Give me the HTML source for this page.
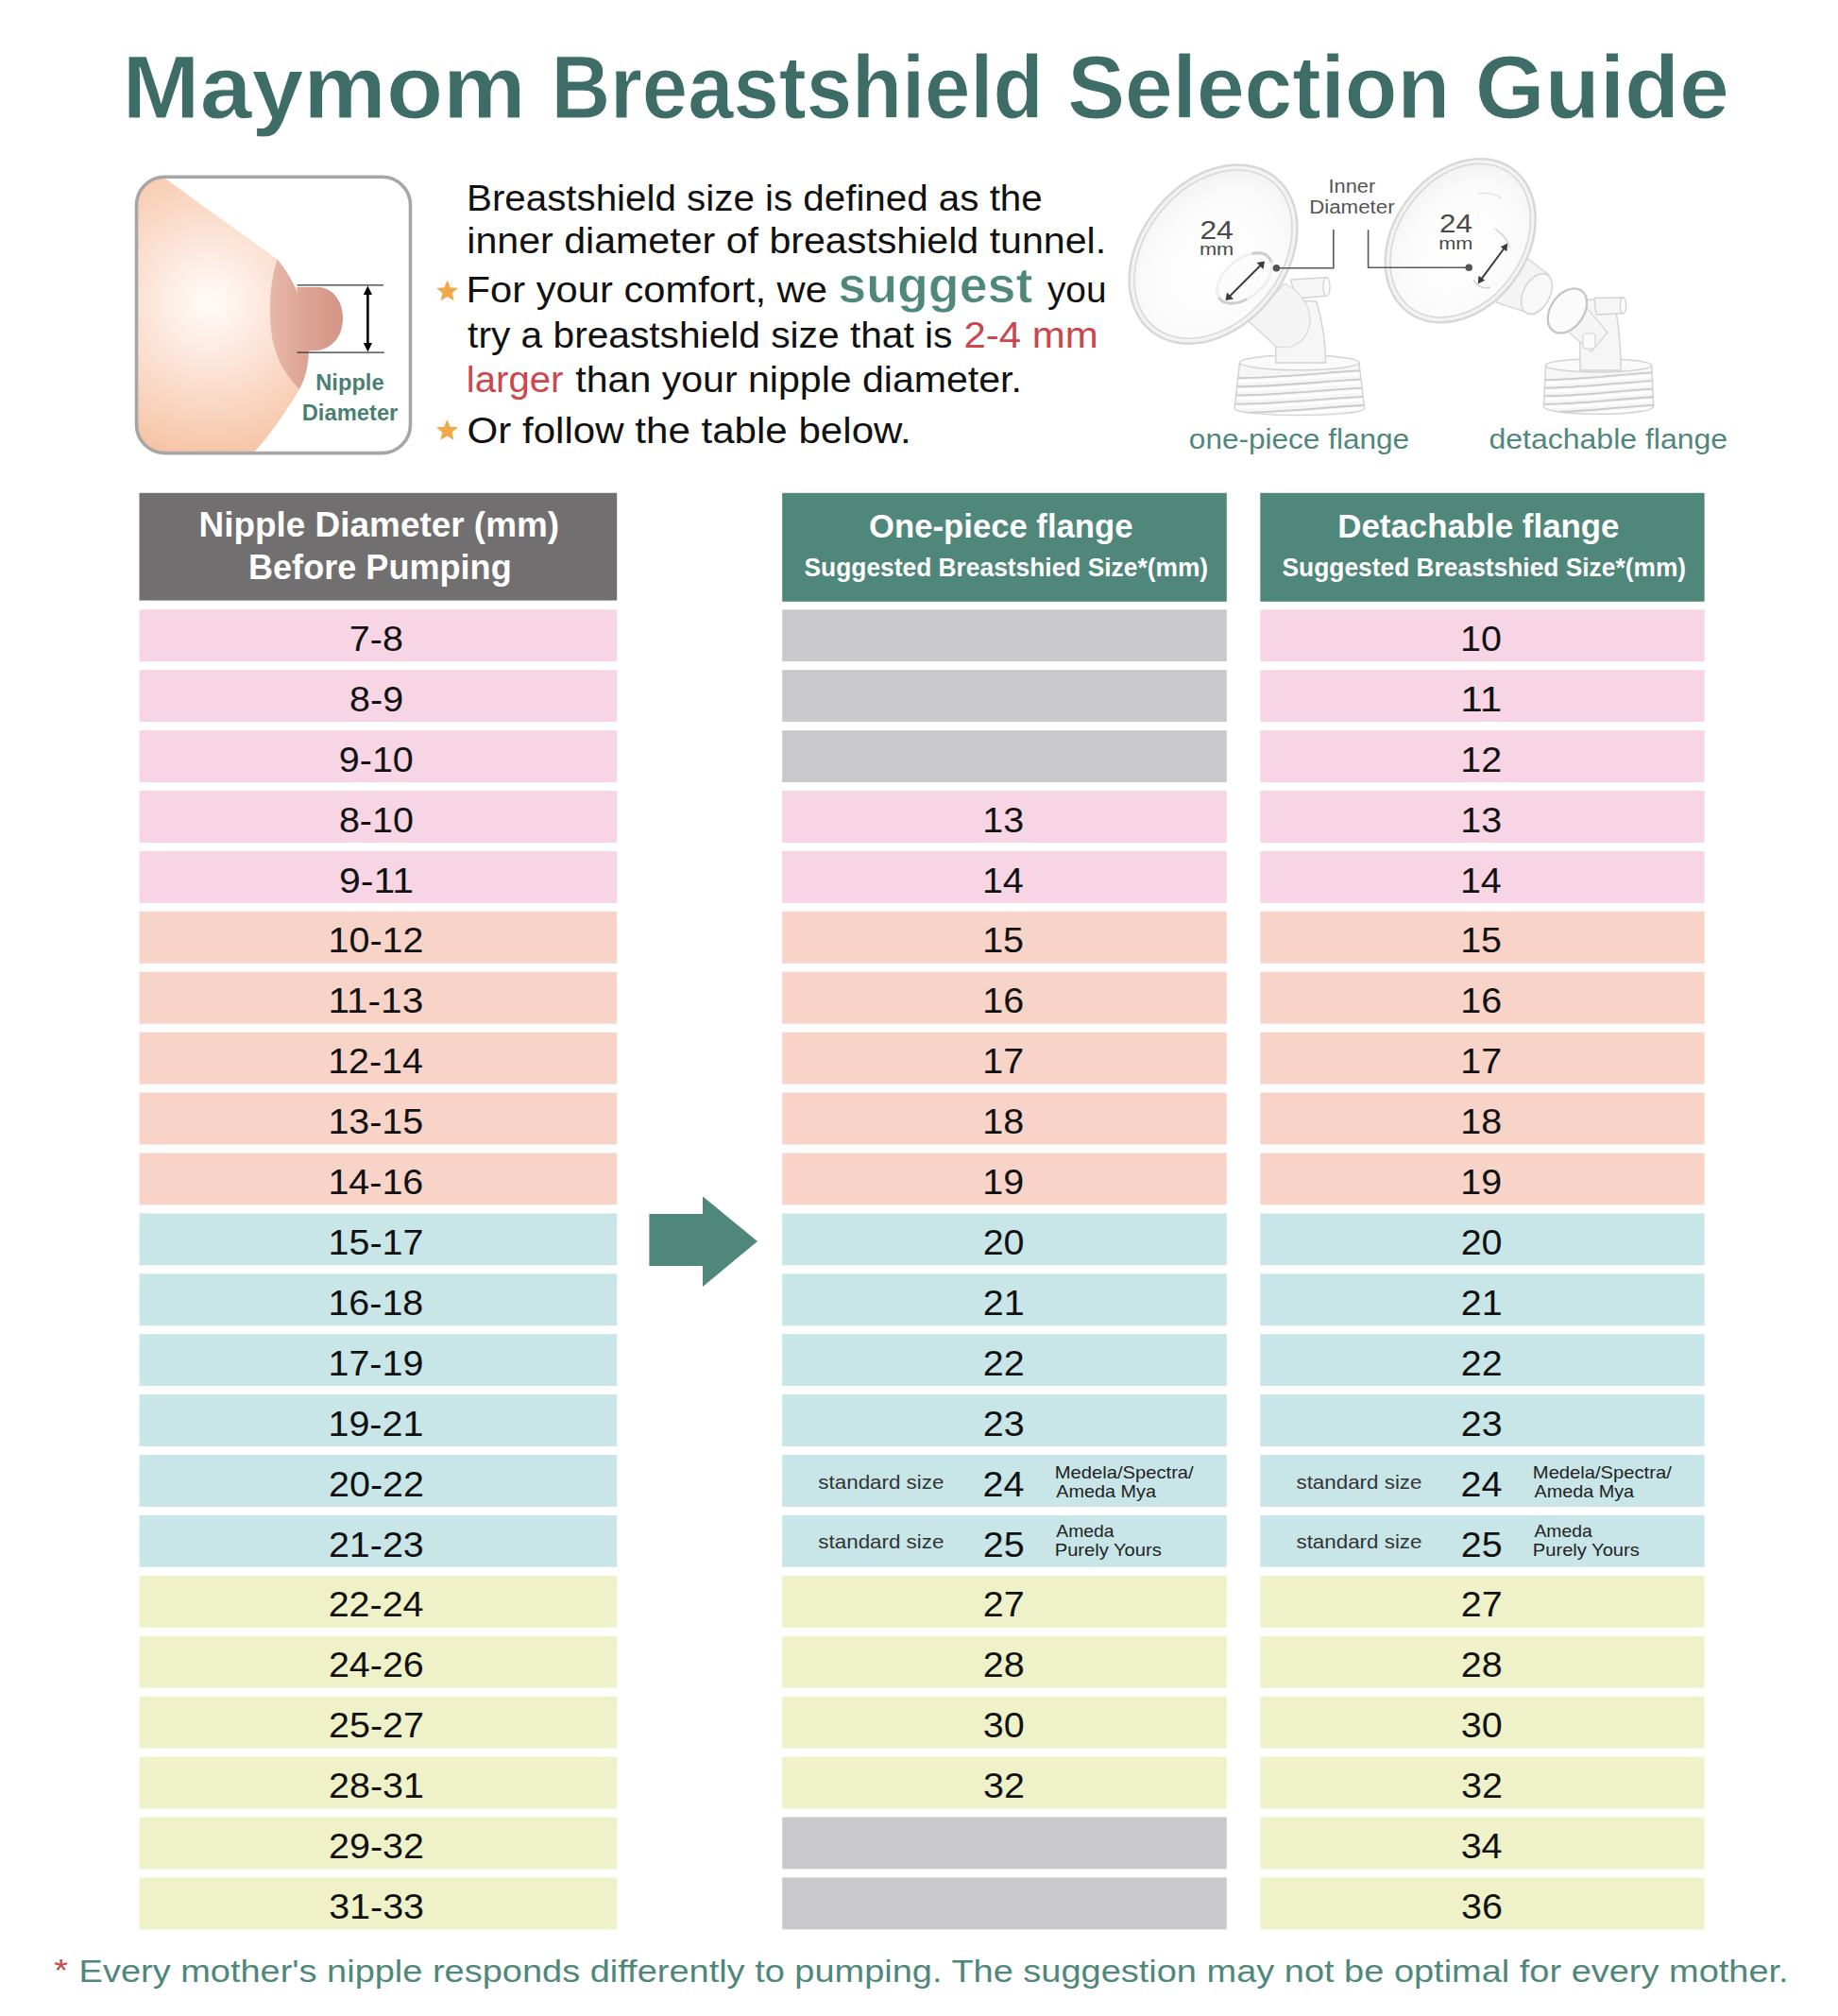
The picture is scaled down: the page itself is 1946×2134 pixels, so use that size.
<!DOCTYPE html>
<html><head><meta charset="utf-8"><style>
html,body{margin:0;padding:0;background:#fff;}
body{width:1946px;height:2134px;overflow:hidden;}
svg{display:block;font-family:"Liberation Sans",sans-serif;}
</style></head><body>
<svg width="1946" height="2134" viewBox="0 0 1946 2134">
<rect width="1946" height="2134" fill="#fff"/>
<text x="129.61" y="124.50" font-size="94.8" font-weight="bold" fill="#3e6d67" textLength="427.10" lengthAdjust="spacingAndGlyphs" stroke="#fff" stroke-width="0.9">Maymom</text>
<text x="583.39" y="124.50" font-size="94.8" font-weight="bold" fill="#3e6d67" textLength="521.13" lengthAdjust="spacingAndGlyphs" stroke="#fff" stroke-width="0.9">Breastshield</text>
<text x="1130.18" y="124.50" font-size="94.8" font-weight="bold" fill="#3e6d67" textLength="404.97" lengthAdjust="spacingAndGlyphs" stroke="#fff" stroke-width="0.9">Selection</text>
<text x="1561.80" y="124.50" font-size="94.8" font-weight="bold" fill="#3e6d67" textLength="269.14" lengthAdjust="spacingAndGlyphs" stroke="#fff" stroke-width="0.9">Guide</text>
<defs>
<radialGradient id="skin" cx="222" cy="320" r="175" gradientUnits="userSpaceOnUse">
<stop offset="0" stop-color="#fffcfa"/><stop offset="0.3" stop-color="#fdeae0"/><stop offset="0.75" stop-color="#f8d0b8"/><stop offset="1" stop-color="#f6c09f"/></radialGradient>
<linearGradient id="areola" x1="285" y1="0" x2="327" y2="0" gradientUnits="userSpaceOnUse">
<stop offset="0" stop-color="#e8b8a8"/><stop offset="1" stop-color="#dca293"/></linearGradient>
<linearGradient id="nip" x1="314" y1="0" x2="363" y2="0" gradientUnits="userSpaceOnUse">
<stop offset="0" stop-color="#dfa898"/><stop offset="1" stop-color="#d49486"/></linearGradient>
<clipPath id="boxclip"><rect x="144.5" y="187.3" width="290" height="292.3" rx="29"/></clipPath>
<radialGradient id="flfill" cx="0.45" cy="0.55" r="0.6">
<stop offset="0" stop-color="#ffffff"/><stop offset="0.7" stop-color="#fbfbfb"/><stop offset="1" stop-color="#f2f2f2"/></radialGradient>
</defs>
<g clip-path="url(#boxclip)">
<path d="M140,185 L175,189 L293.6,274.5 C313,298 326,330 327,365 C327,390 322,402 317,412 C300,440 285,462 265.8,482 L140,482 Z" fill="url(#skin)"/>
<path d="M293.6,274.5 C313,298 326,330 327,365 C327,390 322,402 317,412 C300,395 290,375 287,350 C284,320 287,295 293.6,274.5 Z" fill="url(#areola)"/>
<path d="M314,304 L339,304 C355,306 363,322 363,337 C363,355 352,370 335,371 L314,372 C318,350 318,325 314,304 Z" fill="url(#nip)"/>
</g>
<rect x="144.5" y="187.3" width="290" height="292.3" rx="30" fill="none" stroke="#a6a6a6" stroke-width="3.6"/>
<line x1="314.5" y1="301.8" x2="406" y2="301.8" stroke="#333" stroke-width="1.2"/>
<line x1="314.5" y1="373.2" x2="406.8" y2="373.2" stroke="#333" stroke-width="1.2"/>
<line x1="389.4" y1="309" x2="389.4" y2="366" stroke="#000" stroke-width="2.6"/>
<path d="M389.4,302.5 L384.8,312 L394,312 Z M389.4,372.5 L384.8,363 L394,363 Z" fill="#000"/>
<text x="334.22" y="412.90" font-size="23" font-weight="bold" fill="#4a7f74" textLength="72.39" lengthAdjust="spacingAndGlyphs">Nipple</text>
<text x="319.71" y="445.00" font-size="23" font-weight="bold" fill="#4a7f74" textLength="101.65" lengthAdjust="spacingAndGlyphs">Diameter</text>
<polygon points="473.60,296.60 476.77,304.23 485.01,304.89 478.74,310.27 480.65,318.31 473.60,314.00 466.55,318.31 468.46,310.27 462.19,304.89 470.43,304.23" fill="#f0a848"/>
<polygon points="473.40,444.00 476.57,451.63 484.81,452.29 478.54,457.67 480.45,465.71 473.40,461.40 466.35,465.71 468.26,457.67 461.99,452.29 470.23,451.63" fill="#f0a848"/>
<text x="493.99" y="222.90" font-size="38" font-weight="normal" fill="#111" textLength="609.70" lengthAdjust="spacingAndGlyphs">Breastshield size is defined as the</text>
<text x="494.25" y="268.10" font-size="38" font-weight="normal" fill="#111" textLength="676.91" lengthAdjust="spacingAndGlyphs">inner diameter of breastshield tunnel.</text>
<text x="493.58" y="319.70" font-size="38" font-weight="normal" fill="#111" textLength="382.27" lengthAdjust="spacingAndGlyphs">For your comfort, we</text>
<text x="887.31" y="319.70" font-size="51" font-weight="bold" fill="#4f877b" textLength="206.05" lengthAdjust="spacingAndGlyphs" stroke="#fff" stroke-width="0.7">suggest</text>
<text x="1108.91" y="319.70" font-size="38" font-weight="normal" fill="#111" textLength="62.57" lengthAdjust="spacingAndGlyphs">you</text>
<text x="495.08" y="368.20" font-size="38" font-weight="normal" fill="#111" textLength="513.39" lengthAdjust="spacingAndGlyphs">try a breastshield size that is</text>
<text x="1020.49" y="368.20" font-size="38" font-weight="normal" fill="#c9474d" textLength="142.07" lengthAdjust="spacingAndGlyphs">2-4 mm</text>
<text x="493.80" y="415.30" font-size="38" font-weight="normal" fill="#c9474d" textLength="102.57" lengthAdjust="spacingAndGlyphs">larger</text>
<text x="609.38" y="415.30" font-size="38" font-weight="normal" fill="#111" textLength="472.55" lengthAdjust="spacingAndGlyphs">than your nipple diameter.</text>
<text x="494.52" y="469.10" font-size="38" font-weight="normal" fill="#111" textLength="470.31" lengthAdjust="spacingAndGlyphs">Or follow the table below.</text>
<g id="flanges" stroke-linejoin="round">
<clipPath id="bc1"><path d="M1312.5,384 L1307.1,432 C1307,442 1444.7,442 1444.7,432 L1438.9,384 Z"/></clipPath>
<path d="M1312.5,384 L1307.1,432 C1307,442 1444.7,442 1444.7,432 L1438.9,384 Z" fill="#f6f6f6"/>
<g clip-path="url(#bc1)">
<path d="M1300,400.0 C1350,401.0 1400,394.0 1450,392.0" fill="none" stroke="#c9c9c9" stroke-width="1.8"/>
<path d="M1300,403.5 C1350,404.5 1400,397.5 1450,395.5" fill="none" stroke="#ffffff" stroke-width="2.4"/>
<path d="M1300,409.2 C1350,410.2 1400,403.2 1450,401.2" fill="none" stroke="#c9c9c9" stroke-width="1.8"/>
<path d="M1300,412.7 C1350,413.7 1400,406.7 1450,404.7" fill="none" stroke="#ffffff" stroke-width="2.4"/>
<path d="M1300,418.4 C1350,419.4 1400,412.4 1450,410.4" fill="none" stroke="#c9c9c9" stroke-width="1.8"/>
<path d="M1300,421.9 C1350,422.9 1400,415.9 1450,413.9" fill="none" stroke="#ffffff" stroke-width="2.4"/>
<path d="M1300,427.6 C1350,428.6 1400,421.6 1450,419.6" fill="none" stroke="#c9c9c9" stroke-width="1.8"/>
<path d="M1300,431.1 C1350,432.1 1400,425.1 1450,423.1" fill="none" stroke="#ffffff" stroke-width="2.4"/>
<path d="M1300,436.8 C1350,437.8 1400,430.8 1450,428.8" fill="none" stroke="#c9c9c9" stroke-width="1.8"/>
<path d="M1300,440.3 C1350,441.3 1400,434.3 1450,432.3" fill="none" stroke="#ffffff" stroke-width="2.4"/>
</g>
<path d="M1312.5,384 L1307.1,432 C1307,442 1444.7,442 1444.7,432 L1438.9,384 Z" fill="none" stroke="#d3d3d3" stroke-width="1.5"/>
<ellipse cx="1375.7" cy="383.8" rx="63.2" ry="8" fill="#fafafa" stroke="#d3d3d3" stroke-width="1.5"/>
<path d="M1350.7,317 L1393.8,319 C1400,340 1403.6,365 1403.6,384 L1350.7,384 Z" fill="#f6f6f6" stroke="#d3d3d3" stroke-width="1.4"/>
<path d="M1366.4,296 L1404,293.7 L1404,313.3 L1372,316 Z" fill="#f6f6f6" stroke="#d3d3d3" stroke-width="1.4"/>
<ellipse cx="1404.5" cy="303.5" rx="3.5" ry="10" fill="#fbfbfb" stroke="#d3d3d3" stroke-width="1.3"/>
<path d="M1322,340 L1360,300 C1380,310 1392,330 1385,350 C1378,368 1360,370 1350,366 Z" fill="#f4f4f4" stroke="#d9d9d9" stroke-width="1.3"/>
<ellipse cx="1284.5" cy="269.1" rx="104.6" ry="76.9" transform="rotate(-51 1284.5 269.1)" fill="#f3f3f3" stroke="#d7d7d7" stroke-width="2.4"/>
<ellipse cx="1284.5" cy="269.1" rx="99" ry="71.5" transform="rotate(-51 1284.5 269.1)" fill="url(#flfill)" stroke="#d9d9d9" stroke-width="1.6"/>
<ellipse cx="1317.5" cy="294.5" rx="34" ry="20" transform="rotate(-40 1317.5 294.5)" fill="#fcfcfc" stroke="#f0f0f0" stroke-width="3"/>
<ellipse cx="1317.5" cy="294.5" rx="34" ry="20" transform="rotate(-40 1317.5 294.5)" fill="none" stroke="#cdcdcd" stroke-width="3" stroke-dasharray="6 49 33 64.5 20"/>
<line x1="1299.5" y1="316" x2="1337" y2="278.5" stroke="#3c3c3c" stroke-width="2"/>
<path d="M1297.5,318 L1299,309.5 L1306,316.5 Z M1339,276.5 L1337.5,285 L1330.5,278 Z" fill="#3c3c3c"/>
<clipPath id="bc2"><path d="M1636.6,387 L1634.4,430 C1634.4,441 1750.8,441 1750.8,430 L1748.7,387 Z"/></clipPath>
<path d="M1636.6,387 L1634.4,430 C1634.4,441 1750.8,441 1750.8,430 L1748.7,387 Z" fill="#f6f6f6"/>
<g clip-path="url(#bc2)">
<path d="M1625,402.0 C1670,403.0 1710,396.0 1760,394.0" fill="none" stroke="#c9c9c9" stroke-width="1.8"/>
<path d="M1625,405.5 C1670,406.5 1710,399.5 1760,397.5" fill="none" stroke="#ffffff" stroke-width="2.4"/>
<path d="M1625,410.6 C1670,411.6 1710,404.6 1760,402.6" fill="none" stroke="#c9c9c9" stroke-width="1.8"/>
<path d="M1625,414.1 C1670,415.1 1710,408.1 1760,406.1" fill="none" stroke="#ffffff" stroke-width="2.4"/>
<path d="M1625,419.2 C1670,420.2 1710,413.2 1760,411.2" fill="none" stroke="#c9c9c9" stroke-width="1.8"/>
<path d="M1625,422.7 C1670,423.7 1710,416.7 1760,414.7" fill="none" stroke="#ffffff" stroke-width="2.4"/>
<path d="M1625,427.8 C1670,428.8 1710,421.8 1760,419.8" fill="none" stroke="#c9c9c9" stroke-width="1.8"/>
<path d="M1625,431.3 C1670,432.3 1710,425.3 1760,423.3" fill="none" stroke="#ffffff" stroke-width="2.4"/>
<path d="M1625,436.4 C1670,437.4 1710,430.4 1760,428.4" fill="none" stroke="#c9c9c9" stroke-width="1.8"/>
<path d="M1625,439.9 C1670,440.9 1710,433.9 1760,431.9" fill="none" stroke="#ffffff" stroke-width="2.4"/>
</g>
<path d="M1636.6,387 L1634.4,430 C1634.4,441 1750.8,441 1750.8,430 L1748.7,387 Z" fill="none" stroke="#d3d3d3" stroke-width="1.5"/>
<ellipse cx="1692.6" cy="386.8" rx="56" ry="7" fill="#fafafa" stroke="#d3d3d3" stroke-width="1.5"/>
<path d="M1672.5,318 L1708,316 C1714,340 1716,365 1716,392 L1673,392 Z" fill="#f6f6f6" stroke="#d3d3d3" stroke-width="1.4"/>
<path d="M1688,315.5 L1718,315 L1718,331.8 L1690,333 Z" fill="#f6f6f6" stroke="#d3d3d3" stroke-width="1.4"/>
<ellipse cx="1718.5" cy="323.5" rx="3.2" ry="8.5" fill="#fbfbfb" stroke="#d3d3d3" stroke-width="1.3"/>
<path d="M1647,340 L1668,312 L1702,352 L1685,372 Z" fill="#f5f5f5" stroke="#d9d9d9" stroke-width="1.3"/>
<ellipse cx="1659.4" cy="329" rx="26" ry="17.5" transform="rotate(-55 1659.4 329)" fill="#fbfbfb" stroke="#c4c4c4" stroke-width="2.2"/>
<rect x="1676" y="353" width="13" height="16" rx="3" fill="#fafafa" stroke="#d5d5d5" stroke-width="1.2"/>
<path d="M1600,262 L1618,274 L1640,291 C1645,305 1640,326 1624,333 L1584,320 Z" fill="#f4f4f4" stroke="#d8d8d8" stroke-width="1.4"/>
<ellipse cx="1627" cy="311" rx="23" ry="14" transform="rotate(-62 1627 311)" fill="#f8f8f8" stroke="#d6d6d6" stroke-width="1.6"/>
<ellipse cx="1546.2" cy="254.7" rx="93.9" ry="70.7" transform="rotate(-54 1546.2 254.7)" fill="#f3f3f3" stroke="#d7d7d7" stroke-width="2.4"/>
<ellipse cx="1546.2" cy="254.7" rx="88.5" ry="65.5" transform="rotate(-54 1546.2 254.7)" fill="url(#flfill)" stroke="#d9d9d9" stroke-width="1.6"/>
<path d="M1583,242 C1590,248 1596,252 1598,262" fill="none" stroke="#d0d0d0" stroke-width="1.4"/>
<path d="M1560,296 C1564,304 1572,306 1578,304" fill="none" stroke="#d0d0d0" stroke-width="1.4"/>
<path d="M1565,205 C1575,203 1585,206 1590,210" fill="none" stroke="#e0e0e0" stroke-width="1.2"/>
<line x1="1566" y1="298.6" x2="1595" y2="259.5" stroke="#3c3c3c" stroke-width="2"/>
<path d="M1564.7,300.4 L1565.5,291.8 L1572.2,296.8 Z M1596.2,257.6 L1595.4,266.2 L1588.7,261.2 Z" fill="#3c3c3c"/>
<path d="M1351.4,283.8 L1411.8,283.8 L1411.8,243" fill="none" stroke="#595959" stroke-width="1.6"/>
<path d="M1448.6,243.3 L1448.6,283.3 L1555.2,283.3" fill="none" stroke="#595959" stroke-width="1.6"/>
<circle cx="1351.4" cy="283.8" r="3.8" fill="#555"/>
<circle cx="1555.2" cy="283.3" r="3.8" fill="#555"/>
<text x="1270.40" y="252.80" font-size="28" font-weight="normal" fill="#4a4a4a" textLength="35.44" lengthAdjust="spacingAndGlyphs">24</text>
<text x="1269.95" y="270.40" font-size="18" font-weight="normal" fill="#4a4a4a" textLength="36.39" lengthAdjust="spacingAndGlyphs">mm</text>
<text x="1524.13" y="246.20" font-size="28" font-weight="normal" fill="#4a4a4a" textLength="34.79" lengthAdjust="spacingAndGlyphs">24</text>
<text x="1523.26" y="264.30" font-size="18" font-weight="normal" fill="#4a4a4a" textLength="36.17" lengthAdjust="spacingAndGlyphs">mm</text>
<text x="1406.49" y="203.90" font-size="19.5" font-weight="normal" fill="#555" textLength="49.67" lengthAdjust="spacingAndGlyphs">Inner</text>
<text x="1386.17" y="225.90" font-size="19.5" font-weight="normal" fill="#555" textLength="90.40" lengthAdjust="spacingAndGlyphs">Diameter</text>
</g>
<text x="1258.88" y="474.70" font-size="30" font-weight="normal" fill="#4f877b" textLength="233.23" lengthAdjust="spacingAndGlyphs">one-piece flange</text>
<text x="1576.56" y="474.70" font-size="30" font-weight="normal" fill="#4f877b" textLength="252.56" lengthAdjust="spacingAndGlyphs">detachable flange</text>
<rect x="147.5" y="521.8" width="505.70000000000005" height="113.8" fill="#716f70"/>
<rect x="828.2" y="521.8" width="470.5999999999999" height="115" fill="#4f877b"/>
<rect x="1334.3" y="521.8" width="470.29999999999995" height="115" fill="#4f877b"/>
<text x="210.53" y="568.30" font-size="37.4" font-weight="bold" fill="#fff" textLength="381.61" lengthAdjust="spacingAndGlyphs">Nipple Diameter (mm)</text>
<text x="262.99" y="613.40" font-size="37.4" font-weight="bold" fill="#fff" textLength="278.73" lengthAdjust="spacingAndGlyphs">Before Pumping</text>
<text x="920.08" y="569.40" font-size="35.5" font-weight="bold" fill="#fff" textLength="279.41" lengthAdjust="spacingAndGlyphs">One-piece flange</text>
<text x="851.54" y="610.40" font-size="27.2" font-weight="bold" fill="#fff" textLength="427.57" lengthAdjust="spacingAndGlyphs">Suggested Breastshied Size*(mm)</text>
<text x="1416.27" y="569.40" font-size="35.5" font-weight="bold" fill="#fff" textLength="298.22" lengthAdjust="spacingAndGlyphs">Detachable flange</text>
<text x="1357.54" y="610.40" font-size="27.2" font-weight="bold" fill="#fff" textLength="427.57" lengthAdjust="spacingAndGlyphs">Suggested Breastshied Size*(mm)</text>
<rect x="147.5" y="645.30" width="505.7" height="54.9" fill="#f7d5e4"/>
<rect x="828.2" y="645.30" width="470.6" height="54.9" fill="#c9c9cb"/>
<rect x="1334.3" y="645.30" width="470.3" height="54.9" fill="#f7d5e4"/>
<text x="369.85" y="688.90" font-size="37.2" font-weight="normal" fill="#111" textLength="56.99" lengthAdjust="spacingAndGlyphs">7-8</text>
<text x="1546.14" y="688.90" font-size="37.2" font-weight="normal" fill="#111" textLength="43.86" lengthAdjust="spacingAndGlyphs">10</text>
<rect x="147.5" y="709.21" width="505.7" height="54.9" fill="#f7d5e4"/>
<rect x="828.2" y="709.21" width="470.6" height="54.9" fill="#c9c9cb"/>
<rect x="1334.3" y="709.21" width="470.3" height="54.9" fill="#f7d5e4"/>
<text x="370.08" y="752.81" font-size="37.2" font-weight="normal" fill="#111" textLength="56.99" lengthAdjust="spacingAndGlyphs">8-9</text>
<text x="1546.33" y="752.81" font-size="37.2" font-weight="normal" fill="#111" textLength="43.86" lengthAdjust="spacingAndGlyphs">11</text>
<rect x="147.5" y="773.12" width="505.7" height="54.9" fill="#f7d5e4"/>
<rect x="828.2" y="773.12" width="470.6" height="54.9" fill="#c9c9cb"/>
<rect x="1334.3" y="773.12" width="470.3" height="54.9" fill="#f7d5e4"/>
<text x="358.89" y="816.72" font-size="37.2" font-weight="normal" fill="#111" textLength="78.92" lengthAdjust="spacingAndGlyphs">9-10</text>
<text x="1546.36" y="816.72" font-size="37.2" font-weight="normal" fill="#111" textLength="43.86" lengthAdjust="spacingAndGlyphs">12</text>
<rect x="147.5" y="837.03" width="505.7" height="54.9" fill="#f7d5e4"/>
<rect x="828.2" y="837.03" width="470.6" height="54.9" fill="#f7d5e4"/>
<rect x="1334.3" y="837.03" width="470.3" height="54.9" fill="#f7d5e4"/>
<text x="358.95" y="880.63" font-size="37.2" font-weight="normal" fill="#111" textLength="78.92" lengthAdjust="spacingAndGlyphs">8-10</text>
<text x="1040.23" y="880.63" font-size="37.2" font-weight="normal" fill="#111" textLength="43.86" lengthAdjust="spacingAndGlyphs">13</text>
<text x="1546.23" y="880.63" font-size="37.2" font-weight="normal" fill="#111" textLength="43.86" lengthAdjust="spacingAndGlyphs">13</text>
<rect x="147.5" y="900.94" width="505.7" height="54.9" fill="#f7d5e4"/>
<rect x="828.2" y="900.94" width="470.6" height="54.9" fill="#f7d5e4"/>
<rect x="1334.3" y="900.94" width="470.3" height="54.9" fill="#f7d5e4"/>
<text x="359.08" y="944.54" font-size="37.2" font-weight="normal" fill="#111" textLength="78.92" lengthAdjust="spacingAndGlyphs">9-11</text>
<text x="1039.95" y="944.54" font-size="37.2" font-weight="normal" fill="#111" textLength="43.86" lengthAdjust="spacingAndGlyphs">14</text>
<text x="1545.95" y="944.54" font-size="37.2" font-weight="normal" fill="#111" textLength="43.86" lengthAdjust="spacingAndGlyphs">14</text>
<rect x="147.5" y="964.85" width="505.7" height="54.9" fill="#f7d3c8"/>
<rect x="828.2" y="964.85" width="470.6" height="54.9" fill="#f7d3c8"/>
<rect x="1334.3" y="964.85" width="470.3" height="54.9" fill="#f7d3c8"/>
<text x="347.56" y="1008.45" font-size="37.2" font-weight="normal" fill="#111" textLength="100.85" lengthAdjust="spacingAndGlyphs">10-12</text>
<text x="1040.20" y="1008.45" font-size="37.2" font-weight="normal" fill="#111" textLength="43.86" lengthAdjust="spacingAndGlyphs">15</text>
<text x="1546.20" y="1008.45" font-size="37.2" font-weight="normal" fill="#111" textLength="43.86" lengthAdjust="spacingAndGlyphs">15</text>
<rect x="147.5" y="1028.76" width="505.7" height="54.9" fill="#f7d3c8"/>
<rect x="828.2" y="1028.76" width="470.6" height="54.9" fill="#f7d3c8"/>
<rect x="1334.3" y="1028.76" width="470.3" height="54.9" fill="#f7d3c8"/>
<text x="347.44" y="1072.36" font-size="37.2" font-weight="normal" fill="#111" textLength="100.85" lengthAdjust="spacingAndGlyphs">11-13</text>
<text x="1040.23" y="1072.36" font-size="37.2" font-weight="normal" fill="#111" textLength="43.86" lengthAdjust="spacingAndGlyphs">16</text>
<text x="1546.23" y="1072.36" font-size="37.2" font-weight="normal" fill="#111" textLength="43.86" lengthAdjust="spacingAndGlyphs">16</text>
<rect x="147.5" y="1092.67" width="505.7" height="54.9" fill="#f7d3c8"/>
<rect x="828.2" y="1092.67" width="470.6" height="54.9" fill="#f7d3c8"/>
<rect x="1334.3" y="1092.67" width="470.3" height="54.9" fill="#f7d3c8"/>
<text x="347.15" y="1136.27" font-size="37.2" font-weight="normal" fill="#111" textLength="100.85" lengthAdjust="spacingAndGlyphs">12-14</text>
<text x="1040.36" y="1136.27" font-size="37.2" font-weight="normal" fill="#111" textLength="43.86" lengthAdjust="spacingAndGlyphs">17</text>
<text x="1546.36" y="1136.27" font-size="37.2" font-weight="normal" fill="#111" textLength="43.86" lengthAdjust="spacingAndGlyphs">17</text>
<rect x="147.5" y="1156.58" width="505.7" height="54.9" fill="#f7d3c8"/>
<rect x="828.2" y="1156.58" width="470.6" height="54.9" fill="#f7d3c8"/>
<rect x="1334.3" y="1156.58" width="470.3" height="54.9" fill="#f7d3c8"/>
<text x="347.40" y="1200.18" font-size="37.2" font-weight="normal" fill="#111" textLength="100.85" lengthAdjust="spacingAndGlyphs">13-15</text>
<text x="1040.22" y="1200.18" font-size="37.2" font-weight="normal" fill="#111" textLength="43.86" lengthAdjust="spacingAndGlyphs">18</text>
<text x="1546.22" y="1200.18" font-size="37.2" font-weight="normal" fill="#111" textLength="43.86" lengthAdjust="spacingAndGlyphs">18</text>
<rect x="147.5" y="1220.49" width="505.7" height="54.9" fill="#f7d3c8"/>
<rect x="828.2" y="1220.49" width="470.6" height="54.9" fill="#f7d3c8"/>
<rect x="1334.3" y="1220.49" width="470.3" height="54.9" fill="#f7d3c8"/>
<text x="347.44" y="1264.09" font-size="37.2" font-weight="normal" fill="#111" textLength="100.85" lengthAdjust="spacingAndGlyphs">14-16</text>
<text x="1040.30" y="1264.09" font-size="37.2" font-weight="normal" fill="#111" textLength="43.86" lengthAdjust="spacingAndGlyphs">19</text>
<text x="1546.30" y="1264.09" font-size="37.2" font-weight="normal" fill="#111" textLength="43.86" lengthAdjust="spacingAndGlyphs">19</text>
<rect x="147.5" y="1284.40" width="505.7" height="54.9" fill="#c8e6e8"/>
<rect x="828.2" y="1284.40" width="470.6" height="54.9" fill="#c8e6e8"/>
<rect x="1334.3" y="1284.40" width="470.3" height="54.9" fill="#c8e6e8"/>
<text x="347.56" y="1328.00" font-size="37.2" font-weight="normal" fill="#111" textLength="100.85" lengthAdjust="spacingAndGlyphs">15-17</text>
<text x="1040.65" y="1328.00" font-size="37.2" font-weight="normal" fill="#111" textLength="43.86" lengthAdjust="spacingAndGlyphs">20</text>
<text x="1546.65" y="1328.00" font-size="37.2" font-weight="normal" fill="#111" textLength="43.86" lengthAdjust="spacingAndGlyphs">20</text>
<rect x="147.5" y="1348.31" width="505.7" height="54.9" fill="#c8e6e8"/>
<rect x="828.2" y="1348.31" width="470.6" height="54.9" fill="#c8e6e8"/>
<rect x="1334.3" y="1348.31" width="470.3" height="54.9" fill="#c8e6e8"/>
<text x="347.43" y="1391.91" font-size="37.2" font-weight="normal" fill="#111" textLength="100.85" lengthAdjust="spacingAndGlyphs">16-18</text>
<text x="1040.84" y="1391.91" font-size="37.2" font-weight="normal" fill="#111" textLength="43.86" lengthAdjust="spacingAndGlyphs">21</text>
<text x="1546.84" y="1391.91" font-size="37.2" font-weight="normal" fill="#111" textLength="43.86" lengthAdjust="spacingAndGlyphs">21</text>
<rect x="147.5" y="1412.22" width="505.7" height="54.9" fill="#c8e6e8"/>
<rect x="828.2" y="1412.22" width="470.6" height="54.9" fill="#c8e6e8"/>
<rect x="1334.3" y="1412.22" width="470.3" height="54.9" fill="#c8e6e8"/>
<text x="347.51" y="1455.82" font-size="37.2" font-weight="normal" fill="#111" textLength="100.85" lengthAdjust="spacingAndGlyphs">17-19</text>
<text x="1040.87" y="1455.82" font-size="37.2" font-weight="normal" fill="#111" textLength="43.86" lengthAdjust="spacingAndGlyphs">22</text>
<text x="1546.87" y="1455.82" font-size="37.2" font-weight="normal" fill="#111" textLength="43.86" lengthAdjust="spacingAndGlyphs">22</text>
<rect x="147.5" y="1476.13" width="505.7" height="54.9" fill="#c8e6e8"/>
<rect x="828.2" y="1476.13" width="470.6" height="54.9" fill="#c8e6e8"/>
<rect x="1334.3" y="1476.13" width="470.3" height="54.9" fill="#c8e6e8"/>
<text x="347.53" y="1519.73" font-size="37.2" font-weight="normal" fill="#111" textLength="100.85" lengthAdjust="spacingAndGlyphs">19-21</text>
<text x="1040.74" y="1519.73" font-size="37.2" font-weight="normal" fill="#111" textLength="43.86" lengthAdjust="spacingAndGlyphs">23</text>
<text x="1546.74" y="1519.73" font-size="37.2" font-weight="normal" fill="#111" textLength="43.86" lengthAdjust="spacingAndGlyphs">23</text>
<rect x="147.5" y="1540.04" width="505.7" height="54.9" fill="#c8e6e8"/>
<rect x="828.2" y="1540.04" width="470.6" height="54.9" fill="#c8e6e8"/>
<rect x="1334.3" y="1540.04" width="470.3" height="54.9" fill="#c8e6e8"/>
<text x="348.07" y="1583.64" font-size="37.2" font-weight="normal" fill="#111" textLength="100.85" lengthAdjust="spacingAndGlyphs">20-22</text>
<text x="1040.46" y="1583.64" font-size="37.2" font-weight="normal" fill="#111" textLength="43.86" lengthAdjust="spacingAndGlyphs">24</text>
<text x="1546.46" y="1583.64" font-size="37.2" font-weight="normal" fill="#111" textLength="43.86" lengthAdjust="spacingAndGlyphs">24</text>
<text x="866.38" y="1575.54" font-size="20.4" font-weight="normal" fill="#333" textLength="133.02" lengthAdjust="spacingAndGlyphs">standard size</text>
<text x="1116.74" y="1564.94" font-size="18.6" font-weight="normal" fill="#222" textLength="146.96" lengthAdjust="spacingAndGlyphs">Medela/Spectra/</text>
<text x="1118.36" y="1584.94" font-size="18.6" font-weight="normal" fill="#222" textLength="105.64" lengthAdjust="spacingAndGlyphs">Ameda Mya</text>
<text x="1372.48" y="1575.54" font-size="20.4" font-weight="normal" fill="#333" textLength="133.02" lengthAdjust="spacingAndGlyphs">standard size</text>
<text x="1622.84" y="1564.94" font-size="18.6" font-weight="normal" fill="#222" textLength="146.96" lengthAdjust="spacingAndGlyphs">Medela/Spectra/</text>
<text x="1624.46" y="1584.94" font-size="18.6" font-weight="normal" fill="#222" textLength="105.64" lengthAdjust="spacingAndGlyphs">Ameda Mya</text>
<rect x="147.5" y="1603.95" width="505.7" height="54.9" fill="#c8e6e8"/>
<rect x="828.2" y="1603.95" width="470.6" height="54.9" fill="#c8e6e8"/>
<rect x="1334.3" y="1603.95" width="470.3" height="54.9" fill="#c8e6e8"/>
<text x="347.95" y="1647.55" font-size="37.2" font-weight="normal" fill="#111" textLength="100.85" lengthAdjust="spacingAndGlyphs">21-23</text>
<text x="1040.71" y="1647.55" font-size="37.2" font-weight="normal" fill="#111" textLength="43.86" lengthAdjust="spacingAndGlyphs">25</text>
<text x="1546.71" y="1647.55" font-size="37.2" font-weight="normal" fill="#111" textLength="43.86" lengthAdjust="spacingAndGlyphs">25</text>
<text x="866.38" y="1639.45" font-size="20.4" font-weight="normal" fill="#333" textLength="133.02" lengthAdjust="spacingAndGlyphs">standard size</text>
<text x="1118.36" y="1626.55" font-size="18.6" font-weight="normal" fill="#222" textLength="61.24" lengthAdjust="spacingAndGlyphs">Ameda</text>
<text x="1116.78" y="1647.05" font-size="18.6" font-weight="normal" fill="#222" textLength="112.93" lengthAdjust="spacingAndGlyphs">Purely Yours</text>
<text x="1372.48" y="1639.45" font-size="20.4" font-weight="normal" fill="#333" textLength="133.02" lengthAdjust="spacingAndGlyphs">standard size</text>
<text x="1624.46" y="1626.55" font-size="18.6" font-weight="normal" fill="#222" textLength="61.24" lengthAdjust="spacingAndGlyphs">Ameda</text>
<text x="1622.88" y="1647.05" font-size="18.6" font-weight="normal" fill="#222" textLength="112.93" lengthAdjust="spacingAndGlyphs">Purely Yours</text>
<rect x="147.5" y="1667.86" width="505.7" height="54.9" fill="#eff2c8"/>
<rect x="828.2" y="1667.86" width="470.6" height="54.9" fill="#eff2c8"/>
<rect x="1334.3" y="1667.86" width="470.3" height="54.9" fill="#eff2c8"/>
<text x="347.66" y="1711.46" font-size="37.2" font-weight="normal" fill="#111" textLength="100.85" lengthAdjust="spacingAndGlyphs">22-24</text>
<text x="1040.87" y="1711.46" font-size="37.2" font-weight="normal" fill="#111" textLength="43.86" lengthAdjust="spacingAndGlyphs">27</text>
<text x="1546.87" y="1711.46" font-size="37.2" font-weight="normal" fill="#111" textLength="43.86" lengthAdjust="spacingAndGlyphs">27</text>
<rect x="147.5" y="1731.77" width="505.7" height="54.9" fill="#eff2c8"/>
<rect x="828.2" y="1731.77" width="470.6" height="54.9" fill="#eff2c8"/>
<rect x="1334.3" y="1731.77" width="470.3" height="54.9" fill="#eff2c8"/>
<text x="347.95" y="1775.37" font-size="37.2" font-weight="normal" fill="#111" textLength="100.85" lengthAdjust="spacingAndGlyphs">24-26</text>
<text x="1040.74" y="1775.37" font-size="37.2" font-weight="normal" fill="#111" textLength="43.86" lengthAdjust="spacingAndGlyphs">28</text>
<text x="1546.74" y="1775.37" font-size="37.2" font-weight="normal" fill="#111" textLength="43.86" lengthAdjust="spacingAndGlyphs">28</text>
<rect x="147.5" y="1795.68" width="505.7" height="54.9" fill="#eff2c8"/>
<rect x="828.2" y="1795.68" width="470.6" height="54.9" fill="#eff2c8"/>
<rect x="1334.3" y="1795.68" width="470.3" height="54.9" fill="#eff2c8"/>
<text x="348.07" y="1839.28" font-size="37.2" font-weight="normal" fill="#111" textLength="100.85" lengthAdjust="spacingAndGlyphs">25-27</text>
<text x="1040.89" y="1839.28" font-size="37.2" font-weight="normal" fill="#111" textLength="43.86" lengthAdjust="spacingAndGlyphs">30</text>
<text x="1546.89" y="1839.28" font-size="37.2" font-weight="normal" fill="#111" textLength="43.86" lengthAdjust="spacingAndGlyphs">30</text>
<rect x="147.5" y="1859.59" width="505.7" height="54.9" fill="#eff2c8"/>
<rect x="828.2" y="1859.59" width="470.6" height="54.9" fill="#eff2c8"/>
<rect x="1334.3" y="1859.59" width="470.3" height="54.9" fill="#eff2c8"/>
<text x="348.05" y="1903.19" font-size="37.2" font-weight="normal" fill="#111" textLength="100.85" lengthAdjust="spacingAndGlyphs">28-31</text>
<text x="1041.11" y="1903.19" font-size="37.2" font-weight="normal" fill="#111" textLength="43.86" lengthAdjust="spacingAndGlyphs">32</text>
<text x="1547.11" y="1903.19" font-size="37.2" font-weight="normal" fill="#111" textLength="43.86" lengthAdjust="spacingAndGlyphs">32</text>
<rect x="147.5" y="1923.50" width="505.7" height="54.9" fill="#eff2c8"/>
<rect x="828.2" y="1923.50" width="470.6" height="54.9" fill="#c9c9cb"/>
<rect x="1334.3" y="1923.50" width="470.3" height="54.9" fill="#eff2c8"/>
<text x="348.07" y="1967.10" font-size="37.2" font-weight="normal" fill="#111" textLength="100.85" lengthAdjust="spacingAndGlyphs">29-32</text>
<text x="1546.70" y="1967.10" font-size="37.2" font-weight="normal" fill="#111" textLength="43.86" lengthAdjust="spacingAndGlyphs">34</text>
<rect x="147.5" y="1987.41" width="505.7" height="54.9" fill="#eff2c8"/>
<rect x="828.2" y="1987.41" width="470.6" height="54.9" fill="#c9c9cb"/>
<rect x="1334.3" y="1987.41" width="470.3" height="54.9" fill="#eff2c8"/>
<text x="348.19" y="2031.01" font-size="37.2" font-weight="normal" fill="#111" textLength="100.85" lengthAdjust="spacingAndGlyphs">31-33</text>
<text x="1546.99" y="2031.01" font-size="37.2" font-weight="normal" fill="#111" textLength="43.86" lengthAdjust="spacingAndGlyphs">36</text>
<path d="M687.4,1285 L744,1285 L744,1266.4 L802,1314 L744,1361.9 L744,1339.9 L687.4,1339.9 Z" fill="#4f877b"/>
<text x="57.39" y="2097.00" font-size="34" font-weight="normal" fill="#c9474d" textLength="14.81" lengthAdjust="spacingAndGlyphs">*</text>
<text x="83.59" y="2097.50" font-size="34" font-weight="normal" fill="#4f877b" textLength="1810.07" lengthAdjust="spacingAndGlyphs">Every mother&#x27;s nipple responds differently to pumping. The suggestion may not be optimal for every mother.</text>
</svg>
</body></html>
